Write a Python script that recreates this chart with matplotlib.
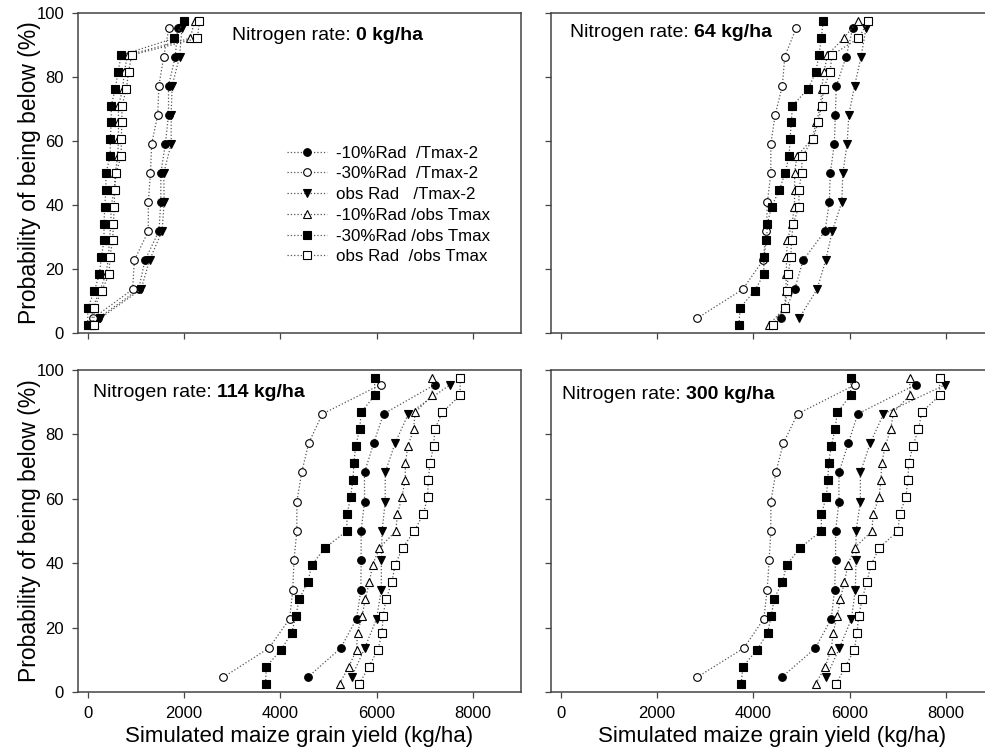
import matplotlib
matplotlib.use("Agg")
import matplotlib.pyplot as plt

plt.rcParams['font.family'] = ['Liberation Sans', 'DejaVu Sans']

# probability of being below (%) - 11 seasons for Tmax-2 runs, 19 seasons for obs Tmax runs
prob11 = [4.55, 13.64, 22.73, 31.82, 40.91, 50.0, 59.09, 68.18, 77.27, 86.36, 95.45]
prob19 = [2.63, 7.89, 13.16, 18.42, 23.68, 28.95, 34.21, 39.47, 44.74, 50.0,
          55.26, 60.53, 65.79, 71.05, 76.32, 81.58, 86.84, 92.11, 97.37]

# N = 0 kg/ha
n0_r10_t2 = [210, 1060, 1190, 1480, 1520, 1520, 1615, 1680, 1680, 1820, 1870]
n0_r30_t2 = [105, 935, 970, 1260, 1260, 1305, 1330, 1455, 1480, 1580, 1690]
n0_obs_t2 = [255, 1110, 1285, 1545, 1590, 1580, 1735, 1735, 1755, 1910, 1960]
n0_r10_obs = [85, 105, 255, 380, 435, 450, 485, 485, 555, 575,
              625, 640, 640, 640, 730, 760, 830, 2130, 2220]
n0_r30_obs = [0, 5, 140, 245, 285, 340, 340, 355, 380, 380,
              470, 470, 490, 490, 575, 630, 700, 1800, 2000]
n0_obs_obs = [125, 140, 290, 450, 460, 520, 535, 555, 560, 590,
              695, 700, 710, 715, 805, 850, 915, 2280, 2320]

# N = 64 kg/ha
n64_r10_t2 = [4585, 4860, 5035, 5490, 5580, 5600, 5685, 5705, 5725, 5930, 6070]
n64_r30_t2 = [2830, 3780, 4205, 4270, 4295, 4365, 4365, 4455, 4605, 4655, 4895]
n64_obs_t2 = [4950, 5325, 5505, 5640, 5840, 5860, 5950, 5985, 6105, 6240, 6345]
n64_r10_obs = [4330, 4655, 4675, 4690, 4690, 4710, 4805, 4855, 4860, 4860,
               4905, 5220, 5310, 5400, 5420, 5470, 5540, 5875, 6170]
n64_r30_obs = [3705, 3725, 4030, 4220, 4220, 4275, 4295, 4380, 4545, 4660,
               4745, 4765, 4790, 4815, 5140, 5300, 5365, 5415, 5450]
n64_obs_obs = [4415, 4655, 4705, 4725, 4780, 4795, 4830, 4950, 4950, 5005,
               5015, 5240, 5345, 5420, 5460, 5595, 5635, 6185, 6390]

# N = 114 kg/ha
n114_r10_t2 = [4570, 5255, 5585, 5675, 5680, 5680, 5750, 5750, 5940, 6145, 7210]
n114_r30_t2 = [2815, 3765, 4195, 4260, 4285, 4345, 4345, 4445, 4590, 4875, 6085]
n114_obs_t2 = [5480, 5755, 6000, 6100, 6100, 6115, 6180, 6180, 6385, 6660, 7530]
n114_r10_obs = [5235, 5425, 5585, 5605, 5700, 5770, 5850, 5920, 6060, 6400,
                6435, 6525, 6595, 6600, 6650, 6770, 6800, 7155, 7155]
n114_r30_obs = [3695, 3710, 4020, 4240, 4325, 4395, 4575, 4655, 4930, 5380,
                5390, 5460, 5510, 5530, 5565, 5650, 5680, 5960, 5960]
n114_obs_obs = [5645, 5840, 6030, 6115, 6135, 6200, 6320, 6385, 6540, 6785,
                6970, 7060, 7075, 7110, 7185, 7210, 7365, 7735, 7740]

# N = 300 kg/ha
n300_r10_t2 = [4590, 5290, 5620, 5690, 5710, 5710, 5780, 5780, 5975, 6170, 7375]
n300_r30_t2 = [2830, 3805, 4220, 4290, 4330, 4365, 4365, 4470, 4625, 4920, 6120]
n300_obs_t2 = [5515, 5790, 6040, 6120, 6135, 6135, 6225, 6225, 6430, 6705, 7990]
n300_r10_obs = [5300, 5495, 5620, 5660, 5745, 5810, 5895, 5965, 6105, 6465,
                6490, 6615, 6650, 6670, 6740, 6855, 6910, 7250, 7250]
n300_r30_obs = [3750, 3785, 4080, 4300, 4375, 4435, 4605, 4695, 4970, 5415,
                5415, 5515, 5550, 5565, 5620, 5700, 5745, 6020, 6030]
n300_obs_obs = [5725, 5915, 6100, 6155, 6190, 6265, 6360, 6445, 6615, 7005,
                7040, 7170, 7210, 7230, 7315, 7430, 7500, 7870, 7870]

labels = ["-10%Rad  /Tmax-2", "-30%Rad  /Tmax-2", "obs Rad   /Tmax-2",
          "-10%Rad /obs Tmax", "-30%Rad /obs Tmax", "obs Rad  /obs Tmax"]
markers = ['o', 'o', 'v', '^', 's', 's']
fills = ['black', 'white', 'black', 'white', 'black', 'white']
n_rates = ['0', '64', '114', '300']

panels = [
    [n0_r10_t2, n0_r30_t2, n0_obs_t2, n0_r10_obs, n0_r30_obs, n0_obs_obs],
    [n64_r10_t2, n64_r30_t2, n64_obs_t2, n64_r10_obs, n64_r30_obs, n64_obs_obs],
    [n114_r10_t2, n114_r30_t2, n114_obs_t2, n114_r10_obs, n114_r30_obs, n114_obs_obs],
    [n300_r10_t2, n300_r30_t2, n300_obs_t2, n300_r10_obs, n300_r30_obs, n300_obs_obs],
]

fig = plt.figure(figsize=(9.85, 7.56), dpi=100)
W = 443 / 985
rects = [
    [78 / 985, 423 / 756, W, 320 / 756],
    [551 / 985, 423 / 756, W, 320 / 756],
    [78 / 985, 64 / 756, W, 322 / 756],
    [551 / 985, 64 / 756, W, 322 / 756],
]
text_pos = [(0.348, 0.931), (0.043, 0.938), (0.034, 0.929), (0.025, 0.925)]
spine_col = '#444444'

for k in range(4):
    ax = fig.add_axes(rects[k])
    for j, xs in enumerate(panels[k]):
        ps = prob11 if j < 3 else prob19
        ax.plot(xs, ps, linestyle=':', color='#555555', linewidth=0.9,
                marker=markers[j], markersize=5.5, markerfacecolor=fills[j],
                markeredgecolor='black', markeredgewidth=0.8, label=labels[j])
    ax.set_xlim(-200, 9000)
    ax.set_ylim(0, 100)
    ax.set_xticks([0, 2000, 4000, 6000, 8000])
    ax.set_yticks([0, 20, 40, 60, 80, 100])
    ax.tick_params(direction='out', length=4, width=0.9, color=spine_col,
                   labelsize=12, pad=6)
    for s in ax.spines.values():
        s.set_color(spine_col)
        s.set_linewidth(1.1)
    if k in (1, 3):
        ax.spines['right'].set_visible(False)
        ax.tick_params(labelleft=False)
    else:
        ax.set_ylabel("Probability of being below (%)", fontsize=16.5, labelpad=-3)
    if k in (0, 1):
        ax.tick_params(labelbottom=False)
    else:
        ax.set_xlabel("Simulated maize grain yield (kg/ha)", fontsize=16, labelpad=4)

    tx, ty = text_pos[k]
    t = ax.text(tx, ty, "Nitrogen rate: ", transform=ax.transAxes,
                fontsize=14, ha='left', va='center')
    ax.annotate(n_rates[k] + " kg/ha", xy=(1, 0.5), xycoords=t,
                fontsize=14, fontweight='bold', ha='left', va='center')

    if k == 0:
        ax.legend(loc='upper left', bbox_to_anchor=(0.457, 0.607), frameon=False,
                  fontsize=12.2, handlelength=2.37, handletextpad=0.53,
                  labelspacing=0.34, borderaxespad=0)

fig.savefig("out.png", dpi=100)
